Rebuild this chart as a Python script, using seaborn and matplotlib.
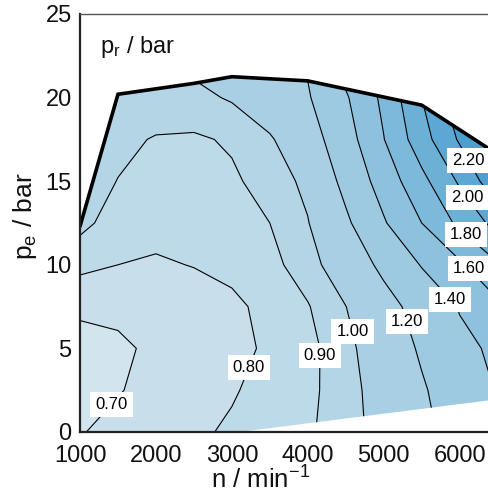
import numpy as np
import matplotlib
matplotlib.use("Agg")
import matplotlib.pyplot as plt
import seaborn as sns
from matplotlib.patches import Polygon

# ---- data ----
speed = [1000, 1500, 2000, 2500, 3000, 3500, 4000, 4500, 5000, 5500, 6000, 6500]
bmep = [0, 2.5, 5, 7.5, 10, 12.5, 15, 17.5, 20, 22.5]
pr_pe00_0 = [0.695, 0.725, 0.754, 0.783, 0.814, 0.850, 0.886, 0.952, 1.048, 1.157, 1.270, 1.390]
pr_pe02_5 = [0.665, 0.695, 0.726, 0.759, 0.791, 0.834, 0.875, 0.955, 1.060, 1.181, 1.297, 1.410]
pr_pe05_0 = [0.680, 0.685, 0.716, 0.746, 0.776, 0.813, 0.870, 0.964, 1.091, 1.222, 1.360, 1.430]
pr_pe07_5 = [0.710, 0.720, 0.745, 0.760, 0.780, 0.827, 0.893, 0.998, 1.134, 1.271, 1.410, 1.560]
pr_pe10_0 = [0.829, 0.800, 0.790, 0.803, 0.825, 0.870, 0.952, 1.085, 1.241, 1.410, 1.568, 1.780]
pr_pe12_5 = [0.930, 0.852, 0.828, 0.832, 0.858, 0.900, 0.994, 1.168, 1.382, 1.600, 1.843, 2.070]
pr_pe15_0 = [0.940, 0.898, 0.864, 0.862, 0.885, 0.937, 1.030, 1.252, 1.480, 1.744, 2.027, 2.350]
pr_pe17_5 = [0.950, 0.920, 0.894, 0.886, 0.912, 0.984, 1.117, 1.313, 1.594, 1.916, 2.224, 2.500]
pr_pe20_0 = [0.960, 0.950, 0.950, 0.970, 1.012, 1.098, 1.184, 1.378, 1.643, 2.000, 2.330, 2.600]
pr_pe22_5 = [0.980, 0.980, 1.000, 1.040, 1.060, 1.170, 1.225, 1.500, 1.800, 2.200, 2.550, 2.900]

levels = [0.7, 0.8, 0.9, 1.0, 1.2, 1.4, 1.6, 1.8, 2.0, 2.2]

# full-load curve and lower limit of the map
fl_speed = [1000, 1500, 2500, 3000, 4000, 5500, 6400]
fl_pe = [12.3, 20.2, 20.85, 21.25, 21.0, 19.55, 16.9]
low_speed = [6400, 3100, 1000]
low_pe = [1.9, 0.0, 0.0]

# where the contour labels sit
label_n = [1430, 3300, 4210, 4590, 5300, 5840, 6100, 6080, 6100, 6100]
label_pe = [1.6, 3.7, 4.6, 6.0, 6.6, 7.8, 9.7, 11.8, 14.0, 16.2]

# ---- plotting ----
sns.set_theme(style="white")
plt.rcParams["font.family"] = ["Liberation Sans", "DejaVu Sans"]
plt.rcParams["mathtext.fontset"] = "custom"
plt.rcParams["mathtext.rm"] = "Liberation Sans"
plt.rcParams["mathtext.it"] = "Liberation Sans:italic"

fig = plt.figure(figsize=(4.88, 4.95), dpi=100)
ax = fig.add_axes([80 / 488, 63 / 495, 410 / 488, 418 / 495])

Z = np.array([pr_pe00_0, pr_pe02_5, pr_pe05_0, pr_pe07_5, pr_pe10_0,
              pr_pe12_5, pr_pe15_0, pr_pe17_5, pr_pe20_0, pr_pe22_5])
N, P = np.meshgrid(speed, bmep)

fill_levels = [0.0] + levels + [5.0]
colors = sns.blend_palette(["#d2e4ee", "#9ecae1", "#4c9fcf"], n_colors=len(fill_levels) - 1)

ax.set_xlim(1000, 6400)
ax.set_ylim(0, 25)

cf = ax.contourf(N, P, Z, levels=fill_levels, colors=colors, antialiased=True)
cl = ax.contour(N, P, Z, levels=levels, colors="black", linewidths=0.8)

boundary = list(zip(fl_speed, fl_pe)) + list(zip(low_speed, low_pe))
clip = Polygon(boundary, closed=True, transform=ax.transData, facecolor="none", edgecolor="none")
ax.add_patch(clip)
cf.set_clip_path(clip)
cl.set_clip_path(clip)

sns.lineplot(x=fl_speed, y=fl_pe, sort=False, color="black", linewidth=2.6, ax=ax,
             solid_joinstyle="miter")

texts = ax.clabel(cl, levels, fmt="%.2f", inline=False, fontsize=12,
                  manual=list(zip(label_n, label_pe)))
for t in texts:
    t.set_rotation(0)
    t.set_color("black")
    t.set_bbox(dict(boxstyle="square,pad=0.3", fc="white", ec="none"))
    t.set_zorder(10)

ax.text(0.05, 0.92, r"p$_\mathrm{r}$ / bar", transform=ax.transAxes, fontsize=17,
        ha="left", va="center", color="#111111")

ax.set_xticks([1000, 2000, 3000, 4000, 5000, 6000])
ax.set_yticks([0, 5, 10, 15, 20, 25])
ax.tick_params(direction="in", length=8, width=1.3, color="#444444", labelsize=17,
               labelcolor="#111111")
ax.tick_params(axis="x", pad=9)
ax.tick_params(axis="y", pad=6)

ax.set_xlabel(r"n / min$^{-1}$", fontsize=18.5, color="#111111")
ax.set_ylabel(r"p$_\mathrm{e}$ / bar", fontsize=19, color="#111111")
ax.xaxis.set_label_coords(0.441, -0.083)
ax.yaxis.set_label_coords(-0.10, 0.515)

for side in ["left", "bottom"]:
    ax.spines[side].set_color("#222222")
    ax.spines[side].set_linewidth(1.6)
ax.spines["top"].set_color("#555555")
ax.spines["top"].set_linewidth(1.0)
ax.spines["right"].set_visible(False)
ax.grid(False)

fig.savefig("out.png", dpi=100)
